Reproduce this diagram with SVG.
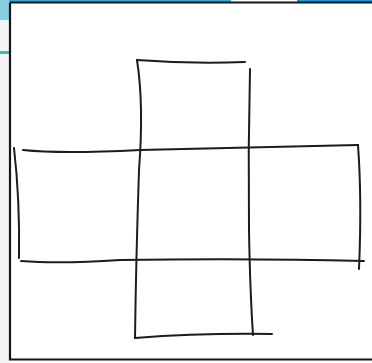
<svg xmlns="http://www.w3.org/2000/svg" width="372" height="363" viewBox="0 0 372 363">
<style>
.pen{fill:none;stroke:#1c1c1c;stroke-width:2;stroke-linecap:round;stroke-linejoin:round}
.frame{fill:none;stroke:#151515;stroke-width:2.2}
</style>
<rect x="0" y="0" width="372" height="363" fill="#ffffff"/>
<rect x="0" y="0" width="9" height="20" fill="#86cfe3"/>
<rect x="0" y="20" width="9" height="32" fill="#f2f5f6"/>
<rect x="0" y="51" width="9" height="3" fill="#2fc0b8"/>
<rect x="0" y="54" width="9" height="309" fill="#f4f4f4"/>
<rect x="9" y="0" width="222" height="2" fill="#3aa7d6"/>
<rect x="297" y="0" width="75" height="2" fill="#1a9ad8"/>
<path class="frame" d="M10,2.5 H373 M10,2.5 V359.5 H373"/>
<g id="drawing">
<path class="pen" d="M137,60 Q190,64 245,62"/>
<path class="pen" stroke-width="2.6" d="M137,60 Q144,105 139,170 Q136,260 135,338"/>
<path class="pen" d="M250,69 Q248,150 249,230 Q250,290 253,335"/>
<path class="pen" d="M135,338 Q200,333 272,334"/>
<path class="pen" d="M23,150 Q60,154 140,150 Q250,147 358,145"/>
<path class="pen" d="M14,148 Q20,200 19,258"/>
<path class="pen" d="M21,261 Q60,264 120,260 Q250,258 364,261"/>
<path class="pen" d="M358,145 Q362,200 359,269"/>
</g>
</svg>
